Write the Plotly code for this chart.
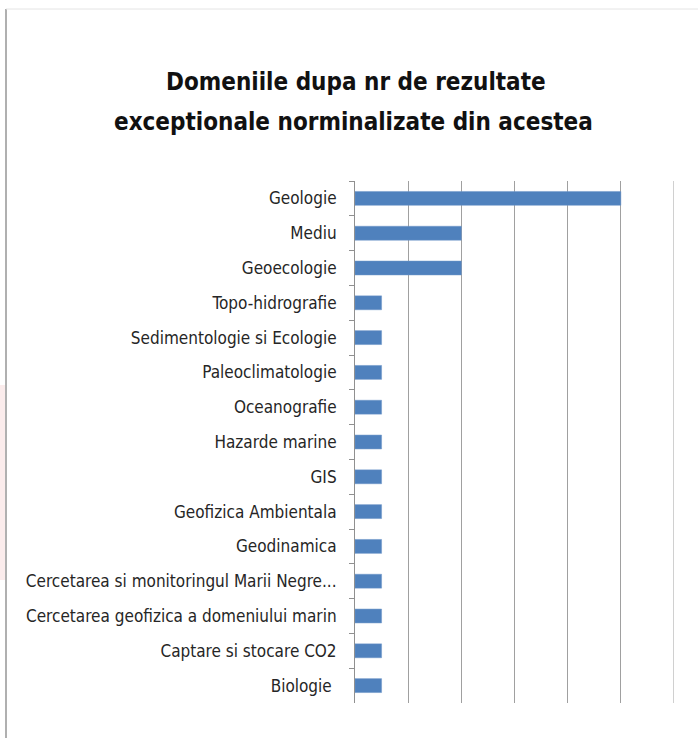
import plotly.graph_objects as go

categories = [
    "Geologie", "Mediu", "Geoecologie", "Topo-hidrografie",
    "Sedimentologie si Ecologie", "Paleoclimatologie", "Oceanografie",
    "Hazarde marine", "GIS", "Geofizica Ambientala", "Geodinamica",
    "Cercetarea si monitoringul Marii Negre...",
    "Cercetarea geofizica a domeniului marin",
    "Captare si stocare CO2", "Biologie ",
]
values = [5, 2, 2, 0.5, 0.5, 0.5, 0.5, 0.5, 0.5, 0.5, 0.5, 0.5, 0.5, 0.5, 0.5]
title_lines = ["Domeniile dupa nr de rezultate", "exceptionale norminalizate din acestea"]
x_max = 6

W, H = 698, 738
L, R, T, B = 355, 674, 181, 703

def px(x):
    return (x - L) / (R - L)

def py(y):
    return (B - y) / (B - T)

FONT = "Liberation Sans Narrow, Arial Narrow, DejaVu Sans Condensed, sans-serif"
TFONT = "DejaVu Sans Condensed, Liberation Sans Narrow, sans-serif"

fig = go.Figure(go.Bar(
    x=values, y=categories, orientation="h",
    marker=dict(color="#4f81bd", line=dict(color="#6f97c8", width=0.5)),
    width=0.4,
))

fig.update_layout(
    width=W, height=H,
    margin=dict(l=L, r=W - R, t=T, b=H - B),
    paper_bgcolor="white", plot_bgcolor="white",
    showlegend=False,
    font=dict(family=FONT, color="#222222"),
    xaxis=dict(range=[0, x_max], dtick=1, showticklabels=False, showgrid=True,
               gridcolor="#a0a0a0", gridwidth=1, zeroline=False, showline=False,
               fixedrange=True),
    yaxis=dict(autorange="reversed", showline=True, linecolor="#909090", linewidth=1,
               ticks="outside", tickson="boundaries", ticklen=5, tickcolor="#909090",
               ticklabelstandoff=14, tickfont=dict(size=17, family=FONT, color="#262626"),
               showgrid=False, fixedrange=True),
    annotations=[
        dict(text="<b>" + title_lines[0] + "</b>", xref="paper", yref="paper",
             x=px(356), y=py(82), xanchor="center", yanchor="middle", showarrow=False,
             font=dict(size=24, family=TFONT, color="#111111")),
        dict(text="<b>" + title_lines[1] + "</b>", xref="paper", yref="paper",
             x=px(353), y=py(122), xanchor="center", yanchor="middle", showarrow=False,
             font=dict(size=24, family=TFONT, color="#111111")),
    ],
    shapes=[
        dict(type="line", xref="x", yref="paper", x0=x_max, x1=x_max, y0=0, y1=1,
             line=dict(color="#a0a0a0", width=1)),
        dict(type="rect", xref="paper", yref="paper", x0=px(0), x1=px(5), y0=py(580), y1=py(385),
             fillcolor="#fbecec", line=dict(width=0), layer="below"),
        dict(type="line", xref="paper", yref="paper", x0=px(6), x1=px(6), y0=py(9), y1=py(738),
             line=dict(color="#b0b0b0", width=2)),
        dict(type="line", xref="paper", yref="paper", x0=px(6), x1=px(698), y0=py(9), y1=py(9),
             line=dict(color="#e4e4e4", width=1)),
    ],
)

fig.write_html("out.html", config={"displayModeBar": False},
               post_script="document.body.style.margin='0';")
